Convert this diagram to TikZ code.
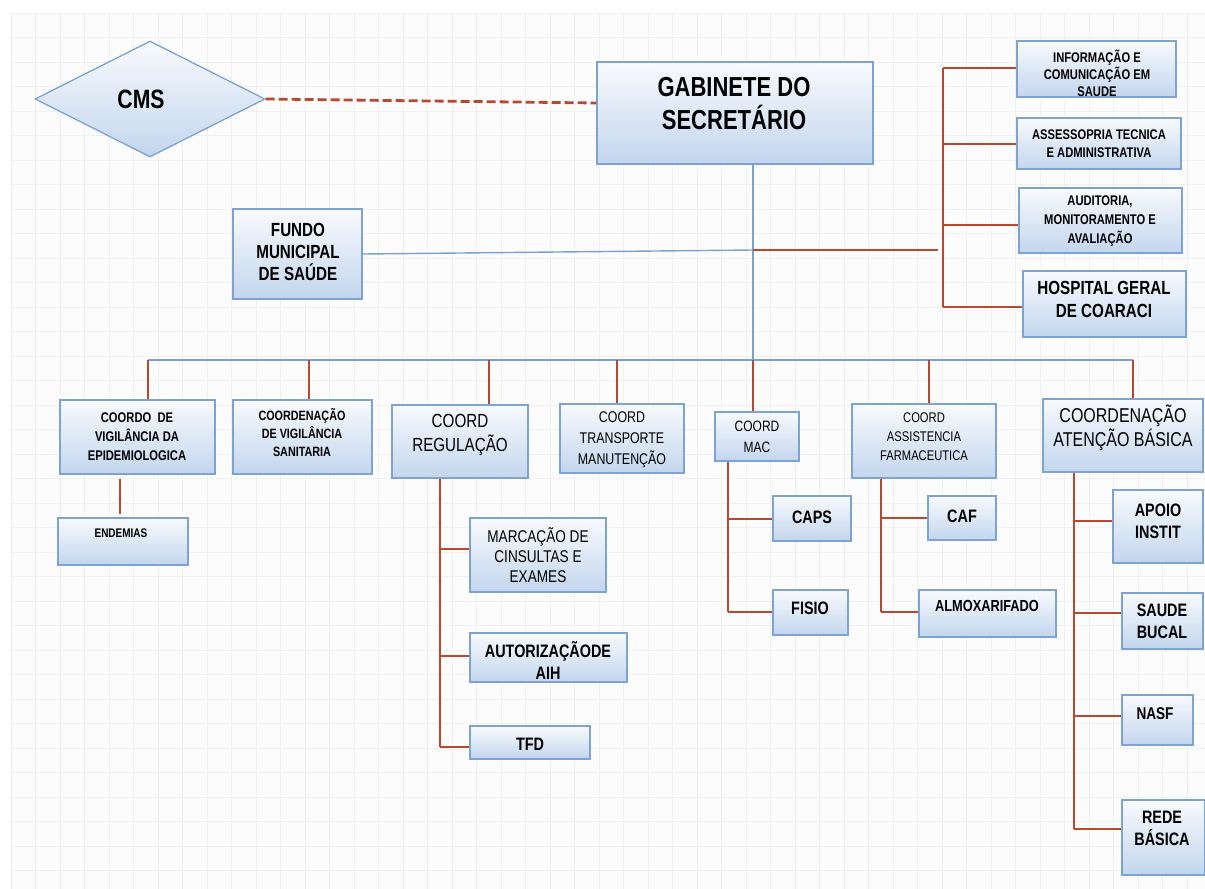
\documentclass[tikz,border=0pt]{standalone}
\usepackage{fontspec}
\usetikzlibrary{shapes.geometric,fit}
\newfontfamily\nar{Liberation Sans}[FakeStretch=0.8]
\newcommand\fs[2]{\fontsize{#1}{#2}\selectfont}
\definecolor{bord}{HTML}{7EA3D1}
\definecolor{btop}{HTML}{F8FAFD}
\definecolor{bbot}{HTML}{C3D6EE}
\definecolor{brn}{HTML}{B8482E}
\definecolor{blu}{HTML}{7AA2D0}
\definecolor{bgc}{HTML}{FCFCFC}
\definecolor{gridc}{HTML}{F1F1F1}
\tikzset{
  box/.style={rectangle, draw=bord, line width=1.3pt, top color=btop, bottom color=bbot, inner sep=0pt},
  br/.style={draw=brn, line width=2pt},
  bl/.style={draw=blu, line width=1.4pt},
  tb/.style={align=center, inner sep=0pt, font=\nar\bfseries},
  tr/.style={align=center, inner sep=0pt, font=\nar},
}
\begin{document}
\begin{tikzpicture}[x=1pt,y=-1pt]
\useasboundingbox (0,0) rectangle (1205,889);
\fill[white] (0,0) rectangle (1205,889);
\fill[bgc] (11,13) rectangle (1205,889);
\foreach \gx in {11,35.5,...,1205} \draw[gridc, line width=0.6pt] (\gx,13) -- (\gx,889);
\foreach \gy in {13,37.5,...,889} \draw[gridc, line width=0.6pt] (11,\gy) -- (1205,\gy);

% top
\node[diamond, draw=bord, line width=1.3pt, top color=btop, bottom color=bbot, minimum width=230pt, minimum height=116pt, inner sep=0pt] (cms) at (150,99) {};
\node[tb, font=\nar\bfseries\fs{26.5}{30}] (cmsT) at (141,99) {CMS};
\node[box, fit={(597,62)(873,164)}] (gab) {};
\node[tb, font=\nar\bfseries\fs{27.5}{33}] (gabT) at (734,104) {GABINETE DO\\SECRETÁRIO};
\draw[br, line width=2.8pt, dash pattern=on 9pt off 4pt] (cms.east) -- ([yshift=10pt]gab.west);

\node[box, fit={(233,209)(362,299)}] (fun) {};
\node[tb, font=\nar\bfseries\fs{19}{22}] (funT) at (298,252) {FUNDO\\MUNICIPAL\\DE SAÚDE};

\node[box, fit={(1017,41)(1176,97)}] (info) {};
\node[tb, font=\nar\bfseries\fs{14}{17}] (infoT) at (1097,73) {INFORMAÇÃO E\\COMUNICAÇÃO EM\\SAUDE};
\node[box, fit={(1017,118)(1181,169)}] (ass) {};
\node[tb, font=\nar\bfseries\fs{14}{18}] (assT) at (1099,144) {ASSESSOPRIA TECNICA\\E ADMINISTRATIVA};
\node[box, fit={(1019,188)(1182,253)}] (aud) {};
\node[tb, font=\nar\bfseries\fs{14}{19}] (audT) at (1100,221) {AUDITORIA,\\MONITORAMENTO E\\AVALIAÇÃO};
\node[box, fit={(1023,271)(1186,337)}] (hosp) {};
\node[tb, font=\nar\bfseries\fs{19}{23}] (hospT) at (1104,299) {HOSPITAL GERAL\\DE COARACI};

\coordinate (j1) at (753,250);
\coordinate (bus) at (753,360);
\coordinate (rv) at (943,0);
\draw[bl] (gab.south -| j1) -- (bus);
\draw[bl] (fun.east) -- (j1);
\draw[br] (j1) -- ([xshift=-5pt]j1 -| rv);
\draw[br] ([yshift=1pt]info.west -| rv) -- ([yshift=-3pt]hosp.west -| rv);
\draw[br] ([yshift=1pt]info.west -| rv) -- ([yshift=1pt]info.west);
\draw[br] (ass.west -| rv) -- (ass.west);
\draw[br] ([yshift=-4pt]aud.west -| rv) -- ([yshift=-4pt]aud.west);
\draw[br] ([yshift=-3pt]hosp.west -| rv) -- ([yshift=-3pt]hosp.west);

% second row
\node[box, fit={(60,400)(215,474)}] (epi) {};
\node[tb, font=\nar\bfseries\fs{14}{19}] (epiT) at (137,437) {COORDO\ \ DE\\VIGILÂNCIA DA\\EPIDEMIOLOGICA};
\node[box, fit={(233,400)(372,474)}] (san) {};
\node[tb, font=\nar\bfseries\fs{13.5}{18}] (sanT) at (302,433) {COORDENAÇÃO\\DE VIGILÂNCIA\\SANITARIA};
\node[box, fit={(392,405)(528,478)}] (reg) {};
\node[tr, font=\nar\fs{19}{24}] (regT) at (460,435) {COORD\\REGULAÇÃO};
\node[box, fit={(560,404)(684,473)}] (tra) {};
\node[tr, font=\nar\fs{15.5}{21}] (traT) at (622,440) {COORD\\TRANSPORTE\\MANUTENÇÃO};
\node[box, fit={(715,412)(799,461)}] (mac) {};
\node[tr, font=\nar\fs{15}{21}] (macT) at (757,437) {COORD\\MAC};
\node[box, fit={(852,404)(996,478)}] (far) {};
\node[tr, font=\nar\fs{14}{19}] (farT) at (924,437) {COORD\\ASSISTENCIA\\FARMACEUTICA};
\node[box, fit={(1043,399)(1203,472)}] (ate) {};
\node[tr, font=\nar\fs{20}{24}] (ateT) at (1123,428) {COORDENAÇÃO\\ATENÇÃO BÁSICA};

\draw[bl] (148,360) coordinate (bL) -- (1133,360) coordinate (bR);
\foreach \n/\xx in {epi/148, san/309, reg/489, tra/617, mac/753, far/929, ate/1133}
  \draw[br] (\xx,360) -- (\n.north -| \xx,0);

% endemias
\node[box, fit={(58,518)(188,565)}] (end) {};
\node[tb, font=\nar\bfseries\fs{12.5}{15}] (endT) at (121,533) {ENDEMIAS};
\coordinate (ev) at (120,0);
\draw[br] ([yshift=-4pt]epi.south -| ev) -- ([yshift=3pt]end.north -| ev);

% regulacao children
\node[box, fit={(470,518)(606,592)}] (mar) {};
\node[tr, font=\nar\fs{17}{20}] (marT) at (538,555) {MARCAÇÃO DE\\CINSULTAS E\\EXAMES};
\node[box, fit={(470,633)(627,682)}] (aut) {};
\node[tb, font=\nar\bfseries\fs{18}{22}] (autT) at (548,660) {AUTORIZAÇÃODE\\AIH};
\node[box, fit={(470,726)(590,759)}] (tfd) {};
\node[tb, font=\nar\bfseries\fs{18}{22}] (tfdT) at (530,744) {TFD};
\coordinate (rgv) at (440,0);
\draw[br] (reg.south -| rgv) -- ([yshift=-4pt]tfd.west -| rgv);
\draw[br] ([yshift=6pt]mar.west -| rgv) -- ([yshift=6pt]mar.west);
\draw[br] ([yshift=2pt]aut.west -| rgv) -- ([yshift=2pt]aut.west);
\draw[br] ([yshift=-4pt]tfd.west -| rgv) -- ([yshift=-4pt]tfd.west);

% mac children
\node[box, fit={(773,496)(851,541)}] (caps) {};
\node[tb, font=\nar\bfseries\fs{18}{22}] (capsT) at (812,517) {CAPS};
\node[box, fit={(773,590)(848,635)}] (fis) {};
\node[tb, font=\nar\bfseries\fs{18}{22}] (fisT) at (810,608) {FISIO};
\coordinate (mv) at (728,0);
\draw[br] (mac.south -| mv) -- ([yshift=1pt]fis.west -| mv);
\draw[br] (caps.west -| mv) -- (caps.west);
\draw[br] ([yshift=1pt]fis.west -| mv) -- ([yshift=1pt]fis.west);

% farm children
\node[box, fit={(928,496)(996,540)}] (caf) {};
\node[tb, font=\nar\bfseries\fs{18}{22}] (cafT) at (962,516) {CAF};
\node[box, fit={(919,590)(1056,637)}] (alm) {};
\node[tb, font=\nar\bfseries\fs{16}{20}] (almT) at (987,606) {ALMOXARIFADO};
\coordinate (fv) at (881,0);
\draw[br] (far.south -| fv) -- ([yshift=2pt]alm.west -| fv);
\draw[br] (caf.west -| fv) -- (caf.west);
\draw[br] ([yshift=2pt]alm.west -| fv) -- ([yshift=2pt]alm.west);

% atencao basica children
\node[box, fit={(1113,490)(1203,563)}] (apo) {};
\node[tb, font=\nar\bfseries\fs{18}{22}] (apoT) at (1158,521) {APOIO\\INSTIT};
\node[box, fit={(1122,593)(1203,649)}] (buc) {};
\node[tb, font=\nar\bfseries\fs{18}{22}] (bucT) at (1162,621) {SAUDE\\BUCAL};
\node[box, fit={(1122,695)(1193,745)}] (nas) {};
\node[tb, font=\nar\bfseries\fs{17}{21}] (nasT) at (1155,714) {NASF};
\node[box, fit={(1122,800)(1205,875)}] (red) {};
\node[tb, font=\nar\bfseries\fs{18}{22}] (redT) at (1162,828) {REDE\\BÁSICA};
\coordinate (av) at (1074,0);
\draw[br] (ate.south -| av) -- ([yshift=9pt]red.west -| av);
\draw[br] ([yshift=6pt]apo.west -| av) -- ([yshift=6pt]apo.west);
\draw[br] ([yshift=8pt]buc.west -| av) -- ([yshift=8pt]buc.west);
\draw[br] ([yshift=4pt]nas.west -| av) -- ([yshift=4pt]nas.west);
\draw[br] ([yshift=9pt]red.west -| av) -- ([yshift=9pt]red.west);
\end{tikzpicture}
\end{document}
